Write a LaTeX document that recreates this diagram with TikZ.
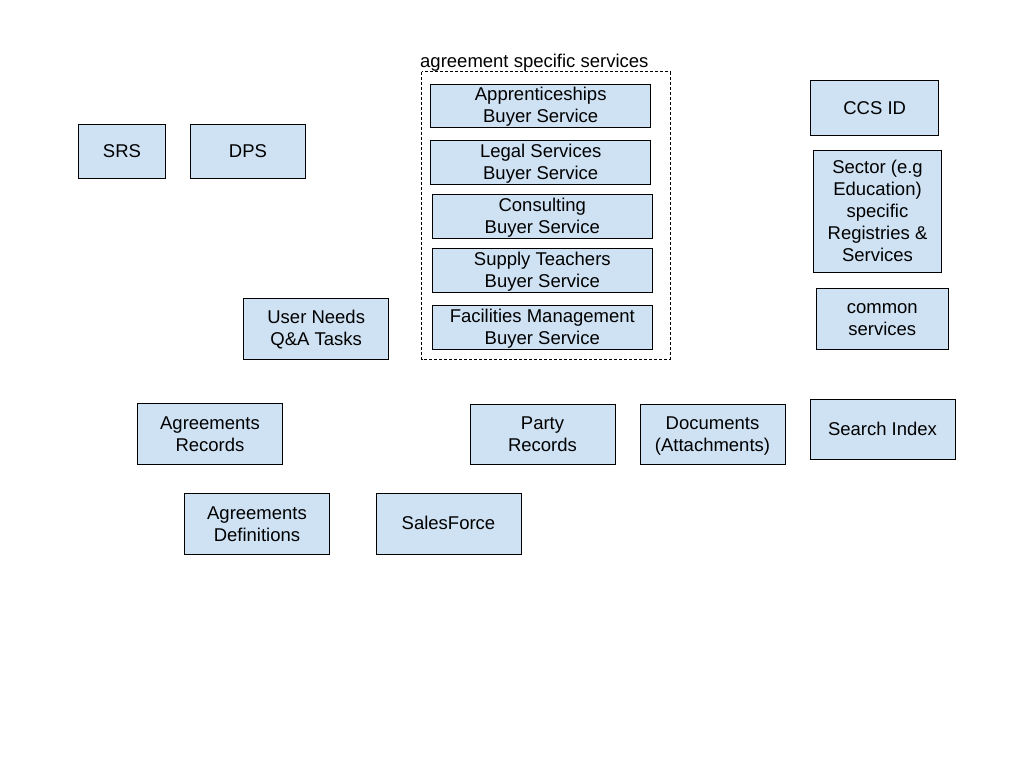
\documentclass[tikz,border=0pt]{standalone}
\usepackage{fontspec}
\setmainfont{Liberation Sans}
\definecolor{boxfill}{HTML}{CFE2F3}
\newcommand\ls{\rule[-0.24em]{0pt}{1.13em}}
\begin{document}
\begin{tikzpicture}[x=1pt,y=-1pt,
    box/.style={draw=black,fill=boxfill,line width=1pt,inner sep=0pt,align=center,
      font=\fontsize{18.5}{22}\selectfont,execute at end node=\ls},
    grouplabel/.style={inner sep=0pt,font=\fontsize{18.5}{22}\selectfont}]
  \useasboundingbox[fill=white] (0,0) rectangle (1024,768);
  % registries
  \node[box,minimum width=87pt,minimum height=54pt] (srs) at (122,151.3) {\ls SRS};
  \node[box,minimum width=115pt,minimum height=54pt] (dps) at (248,151.3) {\ls DPS};
  % agreement specific services
  \draw[line width=0.8pt,dash pattern=on 3pt off 2pt] (421.7,71.7) rectangle (670,359);
  \node[grouplabel,anchor=base west] (grp) at (420,67) {agreement specific services};
  \node[box,minimum width=220pt,minimum height=43pt] (appr) at (540.7,105.8) {\ls Apprenticeships\\Buyer Service};
  \node[box,minimum width=220pt,minimum height=44pt] (legal) at (540.7,162.3) {\ls Legal Services\\Buyer Service};
  \node[box,minimum width=220pt,minimum height=44pt] (cons) at (542.3,216.3) {\ls Consulting\\Buyer Service};
  \node[box,minimum width=220pt,minimum height=44pt] (supply) at (542.3,270.3) {\ls Supply Teachers\\Buyer Service};
  \node[box,minimum width=220pt,minimum height=44pt] (fm) at (542.3,327.3) {\ls Facilities Management\\Buyer Service};
  % right column
  \node[box,minimum width=128pt,minimum height=54.6pt] (ccsid) at (874.7,108) {\ls CCS ID};
  \node[box,minimum width=128.4pt,minimum height=122pt] (sector) at (877.5,211.3) {\ls Sector (e.g\\Education)\\specific\\Registries \&\\Services};
  \node[box,minimum width=132pt,minimum height=60.7pt] (common) at (882.3,318.7) {\ls common\\services};
  % records
  \node[box,minimum width=145pt,minimum height=61pt] (needs) at (316.2,328.8) {\ls User Needs\\Q\&A Tasks};
  \node[box,minimum width=145.4pt,minimum height=60.6pt] (agrrec) at (210,434) {\ls Agreements\\Records};
  \node[box,minimum width=145pt,minimum height=60pt] (party) at (542.5,434) {\ls Party\\Records};
  \node[box,minimum width=145pt,minimum height=60pt] (docs) at (712.5,434) {\ls Documents\\(Attachments)};
  \node[box,minimum width=145pt,minimum height=60pt] (search) at (882.5,429) {\ls Search Index};
  \node[box,minimum width=145.4pt,minimum height=60.6pt] (agrdef) at (257,524) {\ls Agreements\\Definitions};
  \node[box,minimum width=145pt,minimum height=61pt] (sf) at (448.5,523.5) {\ls SalesForce};
\end{tikzpicture}
\end{document}
